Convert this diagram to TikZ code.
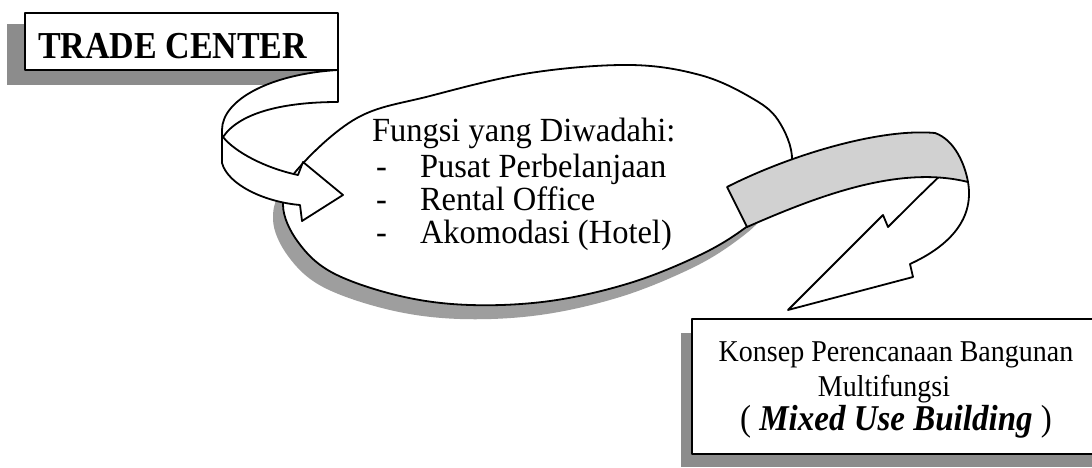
\documentclass[tikz,border=0pt]{standalone}
\usepackage{fontspec}
\setmainfont{Liberation Serif}
\begin{document}
\begin{tikzpicture}[x=1pt,y=-1pt, line join=round,
  outline/.style={draw=black, line width=1.8pt},
  boxshadow/.style={fill=black!45},
  ellshadow/.style={fill=black!38},
  bandfill/.style={fill=black!18},
  ribbon/.style={outline, fill=white},
  txt/.style={inner sep=0pt, outer sep=0pt, text=black}]
\useasboundingbox (0,0) rectangle (1092,468);
\fill[white] (0,0) rectangle (1092,468);

% ---------- ellipse ----------
\def\ellpath{plot[smooth cycle, tension=0.6] coordinates {(283,205) (297,170) (357,118) (430,96) (530,73) (630,65) (700,75) (750,97) (778,120) (792,160) (775,200) (745,228) (700,255) (630,283) (550,301) (470,305) (400,296) (333,273) (298,242)}}
\fill[ellshadow, shift={(-10,14)}] \ellpath;
\draw[outline, fill=white] \ellpath;

\node[txt, anchor=base west] (fungsi) at (372,142) {\fontsize{32.5}{36}\selectfont\scalebox{1}[1.04]{Fungsi yang Diwadahi:}};
\node[txt, anchor=base west] (d1) at (376,177) {\fontsize{32.5}{36}\selectfont\scalebox{1}[1.04]{-}};
\node[txt, anchor=base west] (i1) at (420,177) {\fontsize{32.5}{36}\selectfont\scalebox{1}[1.04]{Pusat Perbelanjaan}};
\node[txt, anchor=base west] (d2) at (376,210) {\fontsize{32.5}{36}\selectfont\scalebox{1}[1.04]{-}};
\node[txt, anchor=base west] (i2) at (420,210) {\fontsize{32.5}{36}\selectfont\scalebox{1}[1.04]{Rental Office}};
\node[txt, anchor=base west] (d3) at (376,243) {\fontsize{32.5}{36}\selectfont\scalebox{1}[1.04]{-}};
\node[txt, anchor=base west] (i3) at (420,243) {\fontsize{32.5}{36}\selectfont\scalebox{1}[1.04]{Akomodasi (Hotel)}};

% ---------- TRADE CENTER box ----------
\fill[boxshadow] (7,24) rectangle (320,85);
\draw[outline, fill=white] (25,13) rectangle (338,70);
\node[txt, anchor=base west] (trade) at (38,59) {\fontsize{34}{36}\selectfont\scalebox{1}[1.12]{\bfseries TRADE CENTER}};

% ---------- left ribbon arrow ----------
\draw[ribbon] (338,70) .. controls (270,74) and (222,100) .. (222,130)
  -- (222,163)
  .. controls (228,185) and (265,202) .. (300,205)
  -- (302,221) -- (343,195) -- (303,162) -- (298,175)
  .. controls (265,168) and (235,152) .. (223,137)
  .. controls (240,112) and (285,102) .. (338,102) -- cycle;

% ---------- right ribbon arrow ----------
\draw[ribbon] (943,173) .. controls (925,190) and (905,210) .. (888,227)
  -- (883,215) -- (788,310) -- (913,277) -- (910,264)
  .. controls (945,248) and (975,222) .. (968,182)
  -- (955,165) -- cycle;
\draw[outline, bandfill] (727,187) -- (747,227)
  .. controls (820,195) and (900,165) .. (968,182)
  .. controls (965,165) and (955,140) .. (935,133)
  .. controls (880,128) and (790,155) .. (727,187) -- cycle;

% ---------- Konsep box ----------
\fill[boxshadow] (681,333) rectangle (1100,467);
\draw[outline, fill=white] (692,319) rectangle (1100,454);
\node[txt, anchor=base] (k1) at (896,361) {\fontsize{28}{30}\selectfont\scalebox{1}[1.08]{Konsep Perencanaan Bangunan}};
\node[txt, anchor=base] (k2) at (884,396) {\fontsize{28}{30}\selectfont\scalebox{1}[1.08]{Multifungsi}};
\node[txt, anchor=base] (k3) at (896,430) {\fontsize{33}{36}\selectfont\scalebox{1}[1.1]{( \textbf{\textit{Mixed Use Building}} )}};
\end{tikzpicture}
\end{document}
